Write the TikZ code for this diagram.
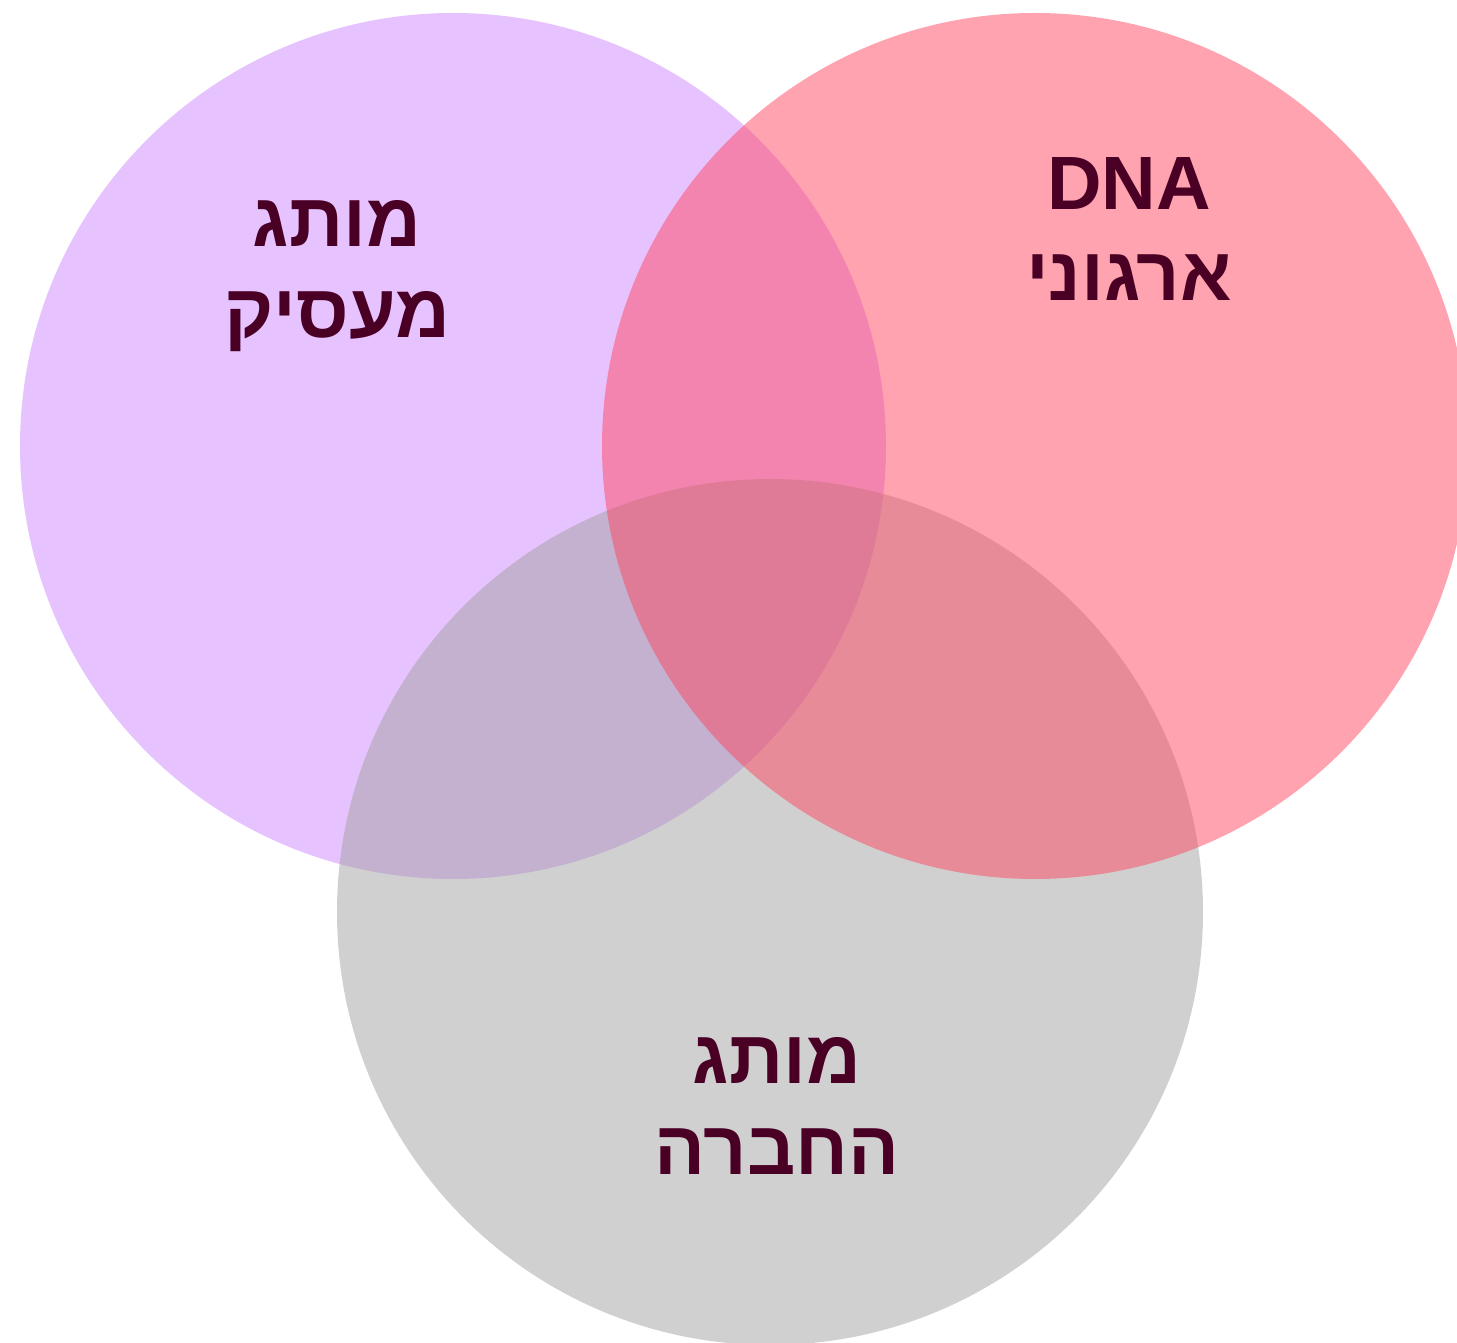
\documentclass[tikz,border=0pt]{standalone}
\usepackage{fontspec}
\newfontfamily\hebfont[Script=Hebrew]{Liberation Sans}
\TeXXeTstate=1
\definecolor{employerColor}{RGB}{205,135,253}
\definecolor{dnaColor}{RGB}{255,71,97}
\definecolor{companyColor}{RGB}{161,161,161}
\definecolor{labelColor}{RGB}{74,0,37}

\begin{document}
\begin{tikzpicture}[font=\hebfont\bfseries]
	\tikzstyle{vennStyle} = [shape = circle, minimum size = 8.66cm, inner sep = 0pt, fill opacity = 0.5, draw = none]
	\tikzstyle{labelStyle} = [align = center, text = labelColor, font = \hebfont\bfseries\fontsize{21.5}{26}\selectfont, inner sep = 0pt]
	\useasboundingbox (0,0) rectangle (14.57,-13.43);
	\node[vennStyle, fill = employerColor] (employer) at (4.53,-4.46) {};
	\node[vennStyle, fill = companyColor] (company) at (7.70,-9.12) {};
	\node[vennStyle, fill = dnaColor] (dna) at (10.35,-4.46) {};
	\node[labelStyle] (employerLabel) at (3.37,-2.76) {\beginR מותג\endR\\\beginR מעסיק\endR};
	\node[labelStyle] (dnaLabel) at (11.29,-2.29) {DNA\\\beginR ארגוני\endR};
	\node[labelStyle] (companyLabel) at (7.77,-11.06) {\beginR מותג\endR\\\beginR החברה\endR};
\end{tikzpicture}
\end{document}
